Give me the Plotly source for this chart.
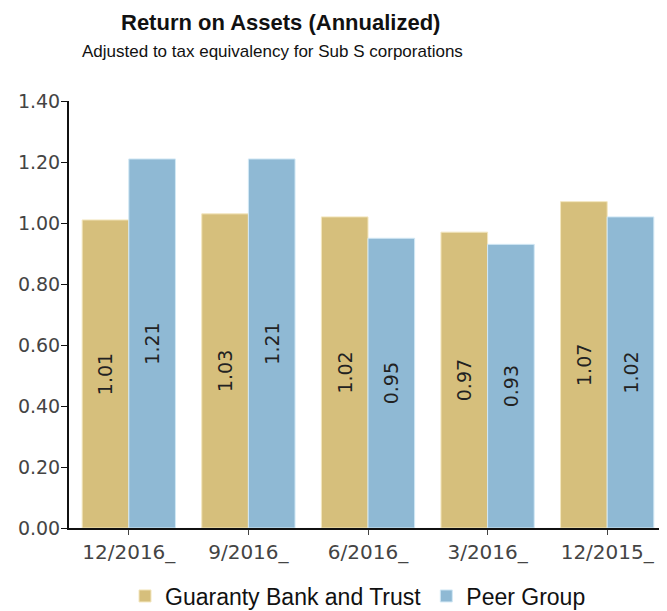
import plotly.graph_objects as go

categories = ["12/2016_", "9/2016_", "6/2016_", "3/2016_", "12/2015_"]
bank_values = [1.01, 1.03, 1.02, 0.97, 1.07]
peer_values = [1.21, 1.21, 0.95, 0.93, 1.02]
y_ticks = [0.0, 0.2, 0.4, 0.6, 0.8, 1.0, 1.2, 1.4]
y_ticklabels = ["0.00", "0.20", "0.40", "0.60", "0.80", "1.00", "1.20", "1.40"]

# page body has an 8px margin, so the figure is offset by 8px in the screenshot
OFF = 8
W, H = 667 - OFF, 611 - OFF
PL, PT, PB = 69 - OFF, 101 - OFF, 528 - OFF
PW, PH = W - PL, PB - PT

label_font = dict(family="DejaVu Sans", size=19, color="#222222")

fig = go.Figure()
fig.add_trace(go.Bar(
    x=categories, y=bank_values, name="Guaranty Bank and Trust",
    marker=dict(color="#D6BF7C", line=dict(color="#F3E6BE", width=1)),
    texttemplate="%{y:.2f}", textposition="inside", insidetextanchor="middle",
    textangle=-90, textfont=label_font,
))
fig.add_trace(go.Bar(
    x=categories, y=peer_values, name="Peer Group",
    marker=dict(color="#8FB9D4", line=dict(color="#D2E8F5", width=1)),
    texttemplate="%{y:.2f}", textposition="inside", insidetextanchor="middle",
    textangle=-90, textfont=label_font,
))

def px(x):
    return (x - OFF - PL) / PW

def py(y):
    return (PB - (y - OFF)) / PH

fig.update_layout(
    width=W, height=H,
    margin=dict(l=PL, r=0, t=PT, b=H - PB, autoexpand=False),
    plot_bgcolor="white", paper_bgcolor="white",
    barmode="group", bargap=0.22, bargroupgap=0,
    uniformtext=dict(minsize=19, mode="show"),
    showlegend=True,
    legend=dict(orientation="h", xref="container", x=(358 - OFF) / W, xanchor="center",
                yref="container", y=(611 - 596) / H, yanchor="middle",
                font=dict(family="Liberation Sans, Arial", size=23, color="#111111"),
                itemwidth=30, tracegroupgap=0),
    annotations=[
        dict(text="<b>Return on Assets (Annualized)</b>", xref="paper", yref="paper",
             x=px(280), y=py(22), xanchor="center", yanchor="middle",
             showarrow=False, font=dict(family="Liberation Sans, Arial", size=22, color="#111111")),
        dict(text="Adjusted to tax equivalency for Sub S corporations", xref="paper", yref="paper",
             x=px(272), y=py(51), xanchor="center", yanchor="middle",
             showarrow=False, font=dict(family="Liberation Sans, Arial", size=17, color="#111111")),
    ],
)

fig.update_xaxes(
    showline=True, linecolor="#111111", linewidth=2,
    ticks="outside", ticklen=5, tickcolor="#444444",
    tickfont=dict(family="DejaVu Sans", size=20, color="#444444"),
    showgrid=False, range=[-0.5, 4.5], automargin=False,
)
fig.update_yaxes(
    range=[0, 1.4], tickvals=y_ticks, ticktext=y_ticklabels,
    showline=True, linecolor="#111111", linewidth=2,
    ticks="outside", ticklen=6, tickcolor="#111111", ticklabelstandoff=-3,
    tickfont=dict(family="DejaVu Sans", size=19, color="#444444"),
    showgrid=False, zeroline=False, automargin=False,
)

fig.write_html("out.html")
